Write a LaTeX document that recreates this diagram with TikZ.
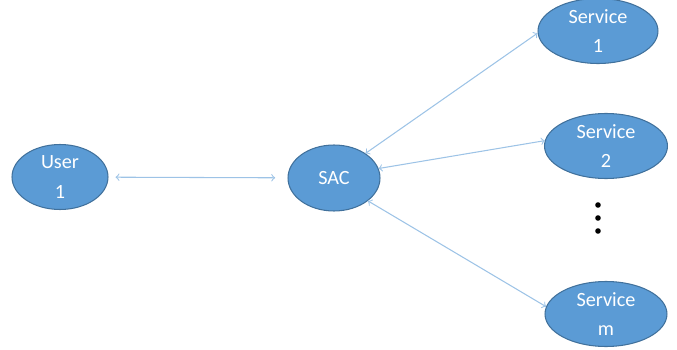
\documentclass[tikz,border=0pt]{standalone}
\usepackage{fontspec}
\setmainfont{Carlito}
\usetikzlibrary{shapes.geometric}

\definecolor{blobfill}{HTML}{5B9BD5}
\definecolor{blobline}{HTML}{41719C}
\definecolor{linkblue}{HTML}{9DC3E6}

\begin{document}
\begin{tikzpicture}[x=0.02cm, y=0.02cm,
      blob/.style={ellipse, draw=blobline, fill=blobfill, line width=0.6pt,
                   inner sep=0pt, minimum width=1.92cm, minimum height=1.3cm,
                   align=center, text=white, font=\fontsize{11.5}{17}\selectfont},
      link/.style={<->, >=to, draw=linkblue, line width=0.6pt}]
    \useasboundingbox (0,0) rectangle (677,349);
    \node[blob] (u) at (60,172) {User\\1};
    \node[blob, minimum width=1.84cm, minimum height=1.32cm] (sac) at (334,171) {SAC};
    \node[blob, minimum width=2.4cm] (s1) at (598,318) {Service\\1};
    \node[blob, minimum width=2.46cm] (s2) at (606,203) {Service\\2};
    \node[blob, minimum width=2.44cm] (sm) at (606,35) {Service\\m};
    % dots between service 2 and service m
    \foreach \y in {144,131,118}
      \fill (598,\y) circle (2.8);
    \draw[link, shorten <=4pt, shorten >=7pt] (u) -- (sac);
    \draw[link] (sac.38) -- (s1.182);
    \draw[link] (sac.12) -- (s2.175);
    \draw[link] (sac.-34) -- (sm.173);
  \end{tikzpicture}
\end{document}
